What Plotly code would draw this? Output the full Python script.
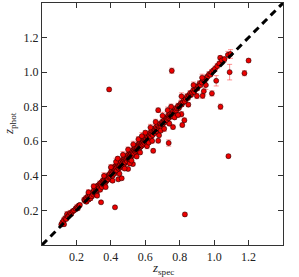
import plotly.graph_objects as go

# (z_spec, z_phot, error) values
z_spec = [
    0.112, 0.118, 0.125, 0.128, 0.134, 0.140, 0.145, 0.150, 0.158, 0.163, 0.170, 0.178, 0.186, 0.195, 0.202, 0.208, 0.214, 0.220,
    0.245, 0.250, 0.255, 0.258, 0.262, 0.266, 0.270, 0.274, 0.278, 0.282, 0.286, 0.290, 0.295, 0.298,
    0.343, 0.424, 0.390,
    0.302, 0.306, 0.310, 0.312, 0.316, 0.318, 0.322, 0.325, 0.328, 0.332, 0.335, 0.338, 0.342, 0.345, 0.348,
    0.352, 0.355, 0.358, 0.362, 0.365, 0.368, 0.372, 0.375, 0.378, 0.382, 0.385, 0.388, 0.392, 0.395, 0.398,
    0.402, 0.405, 0.408, 0.410, 0.413, 0.415, 0.418, 0.420, 0.423, 0.425, 0.428, 0.430, 0.433, 0.435, 0.438,
    0.440, 0.443, 0.445, 0.448, 0.450, 0.453, 0.455, 0.458, 0.460, 0.463, 0.465, 0.468, 0.470, 0.473, 0.475,
    0.478, 0.480, 0.483, 0.485, 0.488, 0.490, 0.493, 0.495, 0.498, 0.500, 0.502, 0.505, 0.508, 0.510, 0.513,
    0.515, 0.518, 0.520, 0.523, 0.525, 0.528, 0.530, 0.533, 0.535, 0.538, 0.540, 0.543, 0.545, 0.548,
    0.550, 0.553, 0.555, 0.558, 0.560, 0.563, 0.565, 0.568, 0.570, 0.573, 0.575, 0.578, 0.580, 0.583, 0.585,
    0.588, 0.590, 0.593, 0.595, 0.598, 0.600, 0.603, 0.606, 0.610, 0.613, 0.616, 0.620, 0.623, 0.626, 0.630,
    0.633, 0.636, 0.640, 0.643, 0.646, 0.648, 0.652, 0.655, 0.658, 0.662, 0.665, 0.668, 0.672, 0.675, 0.675,
    0.678, 0.682, 0.686, 0.690, 0.694, 0.698,
    0.702, 0.706, 0.710, 0.714, 0.718, 0.722, 0.726, 0.730, 0.734, 0.736, 0.738, 0.742, 0.746, 0.750, 0.754,
    0.755, 0.760, 0.761, 0.765, 0.770, 0.775, 0.780, 0.785, 0.790, 0.795, 0.800, 0.806, 0.810, 0.812, 0.815,
    0.818, 0.825, 0.827, 0.830, 0.836, 0.830, 0.842, 0.848,
    0.855, 0.860, 0.866, 0.872, 0.878, 0.884, 0.890, 0.896, 0.902, 0.908, 0.915, 0.920, 0.928, 0.933, 0.940,
    0.936, 0.945, 0.952, 0.955, 0.962, 0.970, 0.978, 0.987, 0.985, 0.995,
    1.005, 1.012, 1.018, 1.030, 1.035, 1.037, 1.045, 1.060, 1.080, 1.090, 1.095, 1.083, 1.176, 1.200,
    0.270, 0.300, 0.320, 0.360, 0.370, 0.400, 0.410, 0.430, 0.440, 0.450, 0.470, 0.480, 0.500, 0.510, 0.520,
    0.530, 0.550, 0.560, 0.570, 0.580, 0.600, 0.610, 0.620, 0.630, 0.640, 0.660, 0.680, 0.690, 0.700, 0.710,
    0.730, 0.740, 0.750, 0.770, 0.790, 0.810, 0.850, 0.880, 0.900, 0.930,
]
z_phot = [
    0.118, 0.130, 0.142, 0.120, 0.155, 0.150, 0.178, 0.165, 0.172, 0.185, 0.180, 0.195, 0.200, 0.210, 0.218, 0.212, 0.228, 0.232,
    0.262, 0.255, 0.272, 0.250, 0.268, 0.282, 0.262, 0.278, 0.290, 0.270, 0.296, 0.282, 0.305, 0.292,
    0.247, 0.218, 0.900,
    0.318, 0.300, 0.325, 0.308, 0.330, 0.295, 0.340, 0.318, 0.345, 0.330, 0.355, 0.320, 0.348, 0.362, 0.335,
    0.372, 0.350, 0.365, 0.378, 0.355, 0.385, 0.368, 0.392, 0.375, 0.398, 0.380, 0.405, 0.390, 0.412, 0.395,
    0.425, 0.410, 0.432, 0.400, 0.440, 0.420, 0.448, 0.412, 0.435, 0.455, 0.425, 0.445, 0.462, 0.432, 0.450,
    0.470, 0.380, 0.442, 0.458, 0.475, 0.448, 0.465, 0.482, 0.455, 0.386, 0.472, 0.490, 0.462, 0.480, 0.498,
    0.470, 0.488, 0.505, 0.478, 0.495, 0.512, 0.485, 0.502, 0.520, 0.440, 0.495, 0.512, 0.528, 0.505, 0.520,
    0.535, 0.512, 0.528, 0.545, 0.520, 0.468, 0.535, 0.552, 0.528, 0.545, 0.560, 0.538, 0.550, 0.568,
    0.545, 0.562, 0.578, 0.552, 0.570, 0.585, 0.560, 0.575, 0.592, 0.568, 0.582, 0.598, 0.575, 0.590, 0.606,
    0.582, 0.598, 0.612, 0.590, 0.605, 0.620, 0.598, 0.612, 0.630, 0.605, 0.622, 0.640, 0.615, 0.632, 0.650,
    0.625, 0.642, 0.660, 0.636, 0.545, 0.652, 0.672, 0.648, 0.662, 0.682, 0.658, 0.672, 0.692, 0.603, 0.780,
    0.675, 0.685, 0.702, 0.688, 0.698, 0.712,
    0.700, 0.712, 0.725, 0.710, 0.722, 0.738, 0.722, 0.735, 0.750, 0.590, 0.735, 0.745, 0.760, 0.745, 1.008,
    0.758, 0.772, 0.682, 0.760, 0.775, 0.790, 0.778, 0.790, 0.805, 0.792, 0.805, 0.820, 0.757, 0.812, 0.694,
    0.825, 0.840, 0.722, 0.830, 0.845, 0.177, 0.860, 0.850,
    0.865, 0.878, 0.868, 0.882, 0.895, 0.885, 0.900, 0.912, 0.905, 0.920, 0.935, 0.925, 0.940, 0.863, 0.890,
    0.955, 0.950, 0.925, 0.968, 0.975, 0.988, 0.985, 0.877, 1.000, 1.010,
    1.020, 0.950, 1.035, 1.050, 1.083, 0.800, 1.068, 1.075, 1.100, 1.000, 1.105, 0.514, 0.994, 1.067,
    0.305, 0.340, 0.285, 0.400, 0.335, 0.450, 0.372, 0.482, 0.500, 0.412, 0.522, 0.442, 0.552, 0.472, 0.488,
    0.582, 0.512, 0.612, 0.535, 0.630, 0.650, 0.572, 0.592, 0.680, 0.602, 0.712, 0.635, 0.662, 0.748, 0.672,
    0.780, 0.702, 0.800, 0.738, 0.752, 0.860, 0.812, 0.925, 0.862, 0.968,
]
z_err = [
    0.010, 0.012, 0.015, 0.010, 0.012, 0.010, 0.015, 0.012, 0.010, 0.015, 0.010, 0.012, 0.010, 0.012, 0.015, 0.010, 0.012, 0.010,
    0.012, 0.010, 0.012, 0.010, 0.010, 0.015, 0.010, 0.012, 0.010, 0.012, 0.010, 0.012, 0.010, 0.012,
    0.008, 0.008, 0.010,
    0.012, 0.010, 0.015, 0.010, 0.012, 0.010, 0.015, 0.010, 0.012, 0.010, 0.015, 0.012, 0.010, 0.012, 0.010,
    0.015, 0.010, 0.012, 0.012, 0.010, 0.015, 0.010, 0.012, 0.010, 0.015, 0.010, 0.012, 0.010, 0.015, 0.010,
    0.015, 0.012, 0.018, 0.010, 0.015, 0.012, 0.018, 0.010, 0.012, 0.015, 0.010, 0.012, 0.018, 0.010, 0.012,
    0.020, 0.010, 0.012, 0.010, 0.015, 0.012, 0.010, 0.018, 0.010, 0.010, 0.012, 0.015, 0.010, 0.012, 0.018,
    0.010, 0.012, 0.015, 0.010, 0.012, 0.018, 0.010, 0.012, 0.015, 0.010, 0.010, 0.012, 0.018, 0.010, 0.012,
    0.015, 0.010, 0.012, 0.018, 0.010, 0.010, 0.012, 0.015, 0.010, 0.012, 0.018, 0.010, 0.012, 0.015,
    0.010, 0.012, 0.018, 0.010, 0.012, 0.015, 0.010, 0.012, 0.018, 0.010, 0.012, 0.015, 0.010, 0.012, 0.018,
    0.010, 0.012, 0.015, 0.010, 0.012, 0.018, 0.010, 0.012, 0.015, 0.010, 0.012, 0.018, 0.010, 0.012, 0.015,
    0.010, 0.012, 0.018, 0.010, 0.012, 0.012, 0.015, 0.010, 0.012, 0.018, 0.010, 0.012, 0.015, 0.012, 0.012,
    0.010, 0.012, 0.015, 0.010, 0.012, 0.015,
    0.010, 0.012, 0.015, 0.010, 0.012, 0.015, 0.010, 0.012, 0.015, 0.018, 0.010, 0.012, 0.015, 0.010, 0.015,
    0.012, 0.015, 0.012, 0.010, 0.012, 0.015, 0.010, 0.012, 0.015, 0.010, 0.012, 0.015, 0.015, 0.010, 0.012,
    0.012, 0.015, 0.012, 0.010, 0.012, 0.010, 0.015, 0.010,
    0.012, 0.015, 0.010, 0.012, 0.015, 0.010, 0.012, 0.015, 0.010, 0.012, 0.015, 0.010, 0.012, 0.015, 0.020,
    0.015, 0.010, 0.025, 0.015, 0.012, 0.015, 0.010, 0.015, 0.015, 0.012,
    0.015, 0.030, 0.015, 0.012, 0.012, 0.015, 0.020, 0.015, 0.020, 0.045, 0.025, 0.010, 0.015, 0.010,
    0.015, 0.012, 0.010, 0.018, 0.012, 0.015, 0.010, 0.020, 0.012, 0.015, 0.018, 0.010, 0.015, 0.012, 0.010,
    0.018, 0.012, 0.015, 0.010, 0.020, 0.012, 0.015, 0.010, 0.018, 0.012, 0.015, 0.010, 0.012, 0.020, 0.015,
    0.018, 0.012, 0.015, 0.010, 0.015, 0.020, 0.012, 0.018, 0.015, 0.020,
]

diag = [0.0, 1.4]
tick_vals = [0.2, 0.4, 0.6, 0.8, 1.0, 1.2]
tick_text = ["0.2", "0.4", "0.6", "0.8", "1.0", "1.2"]

fig = go.Figure()
fig.add_trace(go.Scatter(
    x=z_spec, y=z_phot, mode="markers",
    error_y=dict(type="data", array=z_err, color="rgba(255,40,40,0.5)", thickness=1, width=2.5),
    marker=dict(symbol="circle", size=5, color="#ee0000", line=dict(color="#200000", width=0.6)),
    showlegend=False,
))
fig.add_trace(go.Scatter(
    x=diag, y=diag, mode="lines",
    line=dict(color="black", width=3, dash="7px,5px"),
    showlegend=False,
))

axis_common = dict(
    range=[0, 1.4], tickvals=tick_vals, ticktext=tick_text,
    ticks="inside", ticklen=5, tickwidth=1, tickcolor="#333",
    showline=True, linecolor="#333", linewidth=1.2, mirror="ticks",
    showgrid=False, zeroline=False, automargin=False,
    tickfont=dict(family="Liberation Serif", size=12, color="#222"),
)
fig.update_xaxes(**axis_common)
fig.update_yaxes(**axis_common)

title_font = dict(family="Liberation Serif", size=13, color="#222")
fig.add_annotation(text="<i>z</i><sub>spec</sub>", xref="paper", yref="paper",
                   x=0.5, y=0, yshift=-23, xanchor="center", yanchor="middle",
                   showarrow=False, font=title_font)
fig.add_annotation(text="<i>z</i><sub>phot</sub>", xref="paper", yref="paper",
                   x=0, y=0.5, xshift=-33, xanchor="center", yanchor="middle",
                   textangle=-90, showarrow=False, font=title_font)

fig.update_layout(
    width=299, height=277,
    margin=dict(l=42, r=16, t=3, b=32),
    plot_bgcolor="white", paper_bgcolor="white",
)
fig.write_html("out.html", config={"displayModeBar": False},
               post_script="document.body.style.margin='0';")
